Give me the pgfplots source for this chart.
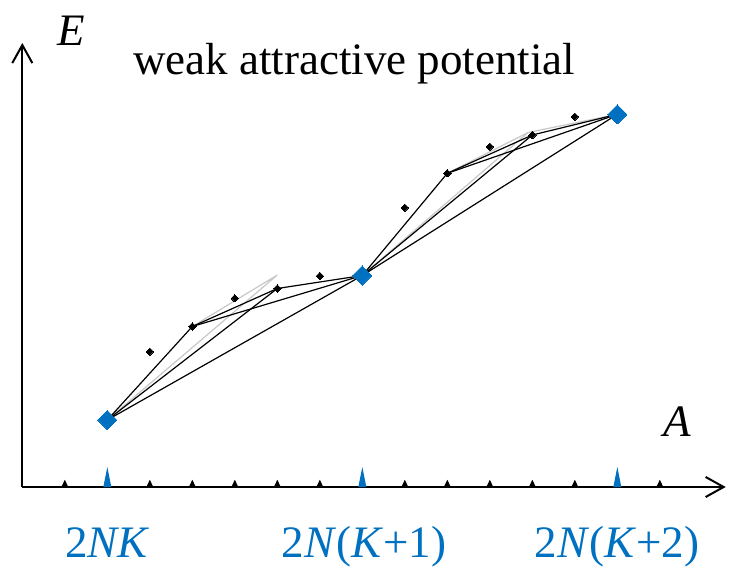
\documentclass[border=0pt]{standalone}
\usepackage{fontspec}
\setmainfont{Liberation Serif}
\usepackage{pgfplots}
\pgfplotsset{compat=1.18}
\usetikzlibrary{arrows.meta}
\definecolor{myblue}{RGB}{0,112,192}
\definecolor{mygray}{RGB}{200,200,200}
\pgfdeclareplotmark{btri}{\pgfpathmoveto{\pgfqpoint{-1.87pt}{0pt}}\pgfpathlineto{\pgfqpoint{0pt}{3.84pt}}\pgfpathlineto{\pgfqpoint{1.87pt}{0pt}}\pgfpathclose\pgfusepathqfill}
\pgfdeclareplotmark{utri}{\pgfpathmoveto{\pgfqpoint{-2.13pt}{0pt}}\pgfpathlineto{\pgfqpoint{0pt}{10.67pt}}\pgfpathlineto{\pgfqpoint{2.13pt}{0pt}}\pgfpathclose\pgfusepathqfill}
\tikzset{bigtxt/.style={scale=2, inner sep=0pt, font=\rmfamily\fontsize{12}{14}\selectfont}}
\begin{document}
\begin{tikzpicture}
\begin{axis}[
  x=22.667pt, y=0.53333pt,
  xmin=-2, xmax=14.55, ymin=0, ymax=444,
  axis x line=bottom, axis y line=left,
  axis line style={line width=1.07pt, -{Straight Barb[length=9.6pt,width=10.7pt]}},
  xtick=\empty, ytick=\empty, clip=false,
  every axis plot/.append style={line width=0.64pt},
]
% gray lines
\addplot[mygray, mark=none] coordinates {(0,67) (4,212) (2,160.5)};
\addplot[mygray, mark=none] coordinates {(6,211.5) (9.9,354.5) (12,372.7)};
\addplot[mygray, mark=none] coordinates {(8,313.7) (9.9,354.5)};
% black lines, first step
\addplot[black, mark=none] coordinates {(0,67) (2,160.5) (4,198.5) (6,211.5)};
\addplot[black, mark=none] coordinates {(0,67) (4,198.5)};
\addplot[black, mark=none] coordinates {(2,160.5) (6,211.5)};
\addplot[black, mark=none] coordinates {(0,67) (6,211.5)};
% black lines, second step
\addplot[black, mark=none] coordinates {(6,211.5) (8,313.7) (10,352) (12,372.7)};
\addplot[black, mark=none] coordinates {(6,211.5) (10,352)};
\addplot[black, mark=none] coordinates {(8,313.7) (12,372.7)};
\addplot[black, mark=none] coordinates {(6,211.5) (12,372.7)};
% small dots
\addplot[only marks, mark=square*, mark size=1.39pt, mark options={rotate=45, black, line width=0pt}]
  coordinates {(1,135.3) (2,160.5) (3,188.7) (4,198.5) (5,211) (7,279.3) (8,313.7) (9,340.3) (10,352) (11,370.3)};
% blue diamonds
\addplot[only marks, mark=square*, mark size=3.63pt, mark options={rotate=45, fill=myblue, draw=myblue, line width=0pt}]
  coordinates {(0,67) (6,211.5) (12,372.7)};
% tick triangles
\addplot[only marks, mark=btri, black]
  coordinates {(-1,0) (1,0) (2,0) (3,0) (4,0) (5,0) (7,0) (8,0) (9,0) (10,0) (11,0) (13,0)};
\addplot[only marks, mark=utri, myblue]
  coordinates {(0,0) (6,0) (12,0)};
% texts
\node[anchor=base, bigtxt] at (axis cs:-0.84,442) {\textit{E}};
\node[anchor=base, bigtxt] at (axis cs:5.81,412.7) {weak attractive potential};
\node[anchor=base, bigtxt] at (axis cs:13.4,50.3) {\textit{A}};
\node[anchor=base, text=myblue, bigtxt] at (axis cs:0,-70.7) {2\textit{NK}};
\node[anchor=base, text=myblue, bigtxt] at (axis cs:6.04,-70.7) {2\textit{N}(\textit{K}+1)};
\node[anchor=base, text=myblue, bigtxt] at (axis cs:11.99,-70.7) {2\textit{N}(\textit{K}+2)};
\coordinate (bl) at (axis cs:-2.525,-81);
\coordinate (tr) at (axis cs:14.675,487);
\end{axis}
\pgfresetboundingbox
\useasboundingbox (bl) rectangle (tr);
\end{tikzpicture}
\end{document}
